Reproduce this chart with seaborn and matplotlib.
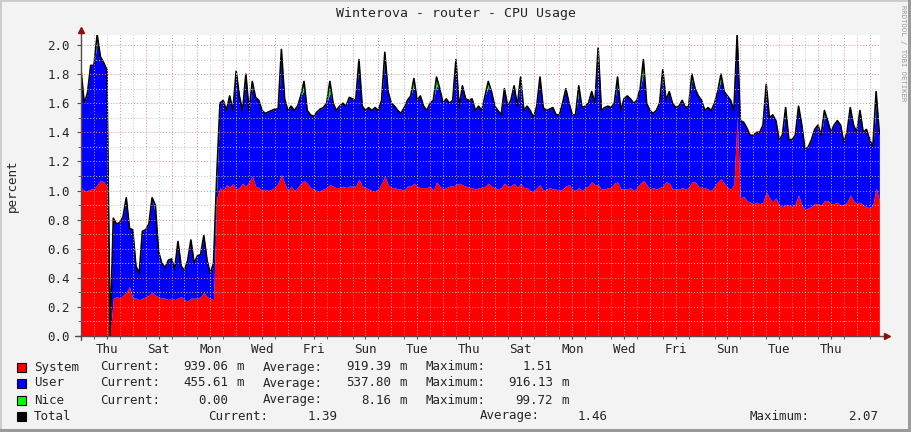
"""RRDtool-style CPU usage graph for the Winterova router, redrawn with seaborn."""
import matplotlib
matplotlib.use("Agg")
import matplotlib.pyplot as plt
import seaborn as sns
import numpy as np
from matplotlib.patches import Rectangle

sns.set_style("white")
plt.rcParams['font.family'] = ['DejaVu Sans Mono']

# one sample every 3 hours (8 per row = one day), values in CPU percent
STEP_DAYS = 0.125

total = [
    1.83, 1.60, 1.67, 1.86, 1.86, 2.07, 1.92, 1.88,
    1.83, 0.00, 0.81, 0.77, 0.78, 0.82, 0.95, 0.74,
    0.73, 0.48, 0.43, 0.72, 0.73, 0.77, 0.95, 0.90,
    0.58, 0.50, 0.47, 0.52, 0.53, 0.46, 0.65, 0.48,
    0.45, 0.52, 0.66, 0.50, 0.55, 0.56, 0.69, 0.52,
    0.43, 0.50, 1.10, 1.60, 1.62, 1.55, 1.65, 1.55,
    1.82, 1.65, 1.55, 1.80, 1.55, 1.75, 1.64, 1.62,
    1.55, 1.53, 1.54, 1.55, 1.56, 1.56, 1.97, 1.63,
    1.55, 1.58, 1.55, 1.58, 1.65, 1.75, 1.55, 1.52,
    1.51, 1.54, 1.56, 1.57, 1.60, 1.75, 1.60, 1.55,
    1.58, 1.60, 1.58, 1.64, 1.63, 1.62, 1.90, 1.58,
    1.55, 1.57, 1.55, 1.57, 1.55, 1.62, 1.95, 1.68,
    1.60, 1.58, 1.55, 1.53, 1.57, 1.62, 1.65, 1.77,
    1.62, 1.65, 1.58, 1.55, 1.60, 1.62, 1.78, 1.70,
    1.60, 1.63, 1.60, 1.62, 1.90, 1.57, 1.72, 1.63,
    1.62, 1.63, 1.55, 1.58, 1.55, 1.65, 1.75, 1.68,
    1.58, 1.55, 1.52, 1.70, 1.58, 1.62, 1.72, 1.58,
    1.78, 1.55, 1.58, 1.55, 1.50, 1.58, 1.78, 1.57,
    1.55, 1.56, 1.57, 1.52, 1.52, 1.60, 1.70, 1.60,
    1.52, 1.52, 1.72, 1.57, 1.58, 1.60, 1.68, 1.60,
    1.98, 1.55, 1.57, 1.58, 1.57, 1.60, 1.78, 1.55,
    1.63, 1.65, 1.63, 1.60, 1.62, 1.70, 1.90, 1.60,
    1.55, 1.53, 1.55, 1.60, 1.83, 1.62, 1.68, 1.60,
    1.57, 1.58, 1.62, 1.57, 1.58, 1.80, 1.70, 1.65,
    1.62, 1.55, 1.57, 1.55, 1.60, 1.68, 1.80, 1.68,
    1.65, 1.62, 1.55, 2.07, 1.48, 1.47, 1.43, 1.38,
    1.38, 1.40, 1.40, 1.45, 1.73, 1.50, 1.52, 1.48,
    1.35, 1.38, 1.57, 1.35, 1.35, 1.38, 1.58, 1.45,
    1.28, 1.30, 1.35, 1.42, 1.45, 1.38, 1.55, 1.48,
    1.40, 1.45, 1.48, 1.45, 1.33, 1.40, 1.57, 1.45,
    1.40, 1.55, 1.40, 1.42, 1.35, 1.30, 1.68, 1.39,
]

system = [
    1.02, 1.00, 1.00, 1.01, 1.01, 1.04, 1.07, 1.06,
    1.03, 0.00, 0.26, 0.27, 0.26, 0.28, 0.30, 0.34,
    0.26, 0.26, 0.25, 0.26, 0.27, 0.28, 0.30, 0.28,
    0.27, 0.26, 0.26, 0.25, 0.26, 0.25, 0.26, 0.27,
    0.25, 0.24, 0.26, 0.26, 0.26, 0.27, 0.30, 0.27,
    0.26, 0.25, 0.95, 1.02, 1.00, 1.04, 1.02, 1.05,
    1.01, 1.02, 1.05, 1.03, 1.06, 1.10, 1.03, 1.02,
    1.00, 1.01, 1.00, 1.01, 1.02, 1.05, 1.11, 1.05,
    1.00, 1.03, 1.00, 1.02, 1.05, 1.07, 1.05, 1.02,
    1.01, 1.00, 1.00, 1.01, 1.02, 1.04, 1.03, 1.02,
    1.02, 1.03, 1.02, 1.03, 1.03, 1.03, 1.08, 1.03,
    1.02, 1.01, 1.00, 1.00, 1.01, 1.05, 1.10, 1.04,
    1.02, 1.02, 1.01, 1.01, 1.00, 1.03, 1.03, 1.05,
    1.03, 1.02, 1.02, 1.02, 1.03, 1.00, 1.06, 1.03,
    1.01, 1.02, 1.03, 1.03, 1.04, 1.05, 1.04, 1.03,
    1.02, 1.02, 1.01, 1.02, 1.02, 1.03, 1.05, 1.03,
    1.02, 1.01, 1.02, 1.05, 1.03, 1.03, 1.05, 1.02,
    1.05, 1.02, 1.02, 1.00, 0.99, 1.02, 1.04, 1.00,
    1.01, 1.02, 1.01, 1.01, 1.00, 1.01, 1.03, 1.04,
    1.01, 1.00, 1.02, 1.00, 1.02, 1.03, 1.06, 1.04,
    1.04, 1.01, 1.01, 1.02, 1.02, 1.05, 1.06, 1.01,
    1.01, 1.01, 1.02, 1.00, 1.02, 1.05, 1.07, 1.04,
    1.01, 1.02, 1.01, 1.02, 1.03, 1.06, 1.05, 1.01,
    1.01, 1.01, 1.02, 1.01, 1.02, 1.06, 1.06, 1.03,
    1.02, 1.02, 1.01, 1.00, 1.03, 1.06, 1.08, 1.05,
    1.02, 1.01, 1.04, 1.50, 0.95, 0.96, 0.93, 0.92,
    0.91, 0.92, 0.91, 0.92, 0.99, 0.95, 0.92, 0.95,
    0.90, 0.89, 0.90, 0.90, 0.89, 0.91, 0.97, 0.90,
    0.87, 0.88, 0.89, 0.91, 0.91, 0.90, 0.93, 0.93,
    0.91, 0.91, 0.92, 0.90, 0.90, 0.92, 0.97, 0.93,
    0.91, 0.92, 0.90, 0.89, 0.88, 0.90, 1.02, 0.93,
]

nice = [
    0.06, 0, 0, 0, 0, 0.05, 0, 0,
    0, 0, 0, 0, 0, 0, 0, 0,
    0, 0, 0, 0, 0, 0, 0, 0.06,
    0, 0, 0, 0, 0, 0, 0, 0,
    0, 0, 0, 0, 0, 0, 0, 0,
    0, 0, 0.08, 0, 0, 0, 0, 0,
    0, 0, 0, 0, 0, 0.03, 0, 0,
    0, 0, 0, 0, 0, 0, 0.04, 0,
    0, 0, 0, 0, 0, 0.06, 0, 0,
    0, 0, 0, 0, 0, 0.08, 0, 0,
    0, 0, 0, 0, 0, 0, 0.03, 0,
    0, 0, 0, 0, 0, 0, 0.03, 0,
    0, 0, 0, 0, 0, 0, 0, 0.05,
    0, 0, 0, 0, 0, 0, 0.06, 0,
    0, 0, 0, 0, 0, 0, 0, 0,
    0, 0, 0, 0, 0, 0, 0.04, 0,
    0, 0, 0, 0, 0, 0, 0, 0,
    0.03, 0, 0, 0, 0, 0, 0, 0,
    0, 0, 0, 0, 0, 0, 0, 0,
    0, 0, 0.04, 0, 0, 0, 0, 0,
    0, 0, 0, 0, 0, 0, 0.04, 0,
    0, 0, 0, 0, 0, 0, 0.09, 0,
    0, 0, 0, 0, 0.03, 0, 0, 0,
    0, 0, 0, 0, 0, 0.04, 0, 0,
    0, 0, 0, 0, 0, 0, 0.04, 0,
    0, 0, 0, 0, 0, 0, 0, 0,
    0, 0, 0, 0, 0.03, 0, 0, 0,
    0, 0, 0.03, 0, 0, 0, 0, 0,
    0, 0, 0, 0, 0, 0, 0.03, 0,
    0, 0, 0, 0, 0, 0, 0, 0,
    0, 0, 0, 0, 0, 0, 0.08, 0,
]

day_labels = ["Thu", "Sat", "Mon", "Wed", "Fri", "Sun", "Tue", "Thu",
              "Sat", "Mon", "Wed", "Fri", "Sun", "Tue", "Thu"]
y_ticks = [0.0, 0.2, 0.4, 0.6, 0.8, 1.0, 1.2, 1.4, 1.6, 1.8, 2.0]

legend_names = ["System", "User", "Nice", "Total"]
legend_colors = ["#ff0000", "#0000ff", "#00ff00", "#000000"]
legend_current = ["939.06", "455.61", "0.00", "1.39"]
legend_average = ["919.39", "537.80", "8.16", "1.46"]
legend_maximum = ["1.51", "916.13", "99.72", "2.07"]
legend_unit_cur = ["m", "m", "", ""]
legend_unit_avg = ["m", "m", "m", ""]
legend_unit_max = ["", "m", "m", ""]

# ---------------------------------------------------------------- layout
W, H = 911, 432
FS = 9
MGRID = "#e88a8a"
GRID = "#c4c4c4"
AXIS = "#5a4a4a"


def fx(px):
    return px / W


def fy(py):
    return 1 - py / H


t = np.arange(len(total)) * STEP_DAYS
total_a = np.array(total)
system_a = np.array(system)
nice_a = np.array(nice)
user_a = np.clip(total_a - system_a - nice_a, 0, None)

fig = plt.figure(figsize=(W / 100, H / 100), dpi=100, facecolor="#f3f3f3")
ax = fig.add_axes([fx(81), fy(336), 799 / W, 301 / H])
ax.set_facecolor("white")

# stacked areas: system, user, nice
ax.fill_between(t, 0, system_a, color="#ff0000", lw=0, zorder=3)
ax.fill_between(t, system_a, system_a + user_a, color="#0000ff", lw=0, zorder=3)
ax.fill_between(t, system_a + user_a, system_a + user_a + nice_a,
                color="#00ff00", lw=0, zorder=3)
sns.lineplot(x=t, y=total_a, color="black", lw=1.2, ax=ax, zorder=4)

ax.set_xlim(0, 30.9)
ax.set_ylim(0, 2.069)

# grid on top of the areas: red dotted majors, grey dotted minors
for i, v in enumerate(np.arange(0.1, 2.05, 0.1)):
    ax.axhline(v, color=MGRID if i % 2 == 1 else GRID, lw=0.7,
               ls=(0, (1, 2)), zorder=5)
for d in range(31):
    ax.axvline(0.5 + d, color=MGRID, lw=0.7, ls=(0, (1, 2)), zorder=5)
    ax.axvline(1.0 + d, color=GRID, lw=0.7, ls=(0, (1, 2)), zorder=5)

for s in ax.spines.values():
    s.set_visible(False)

ax.set_yticks(y_ticks)
ax.set_yticklabels([f"{v:.1f}" for v in y_ticks], fontsize=FS)
ax.set_yticks(np.arange(0.1, 2.05, 0.2), minor=True)
ax.set_xticks([1.0 + 2 * i for i in range(len(day_labels))])
ax.set_xticklabels(day_labels, fontsize=FS)
ax.set_xticks([0.5 + d for d in range(31)], minor=True)
ax.tick_params(axis="y", which="major", length=3, color=AXIS, pad=5, direction="out", left=True)
ax.tick_params(axis="y", which="minor", length=2, color=AXIS, left=True)
ax.tick_params(axis="x", which="major", length=2, color=AXIS, pad=3, bottom=True)
ax.tick_params(axis="x", which="minor", length=2, color=AXIS, bottom=True)
ax.set_xlabel("")
ax.set_ylabel("")

# axis lines with arrow heads
ax.plot([0, 0], [-0.012, 1.01], color=AXIS, lw=1, transform=ax.transAxes,
        clip_on=False, zorder=6)
ax.plot([-0.007, 1.007], [0, 0], color=AXIS, lw=1, transform=ax.transAxes,
        clip_on=False, zorder=6)
ax.plot([0], [1.015], marker="^", ms=5, color="#8b1010", transform=ax.transAxes,
        clip_on=False, zorder=7)
ax.plot([1.009], [0], marker=">", ms=5, color="#8b1010", transform=ax.transAxes,
        clip_on=False, zorder=7)

# texts
fig.text(0.5, fy(14), "Winterova - router - CPU Usage", ha="center", va="center",
         fontsize=9.5)
fig.text(fx(12), fy(186), "percent", rotation=90, ha="center", va="center", fontsize=FS)
fig.text(fx(903), fy(5), "RRDTOOL / TOBI OETIKER", rotation=270, ha="center",
         va="top", fontsize=5.2, color="#9a9a9a")

# legend
row_y = [367, 383, 400, 416]
for r in range(4):
    yy = fy(row_y[r])
    fig.patches.append(Rectangle((fx(17), fy(row_y[r] + 4.5)), 9 / W, 9 / H,
                                 transform=fig.transFigure, facecolor=legend_colors[r],
                                 edgecolor="black", lw=0.8))
    fig.text(fx(34), yy, legend_names[r], ha="left", va="center", fontsize=FS)
    if r < 3:
        cols = [(100.5, 228, legend_current[r], legend_unit_cur[r], "Current:"),
                (262.6, 391, legend_average[r], legend_unit_avg[r], "Average:"),
                (425, 553, legend_maximum[r], legend_unit_max[r], "Maximum:")]
    else:
        cols = [(208, 337.6, legend_current[r], "", "Current:"),
                (480, 608, legend_average[r], "", "Average:"),
                (750, 878.6, legend_maximum[r], "", "Maximum:")]
    for lab_x, num_right, num, unit, lab in cols:
        fig.text(fx(lab_x), yy, lab, ha="left", va="center", fontsize=FS)
        fig.text(fx(num_right), yy, num, ha="right", va="center", fontsize=FS)
        if unit:
            fig.text(fx(num_right + 8), yy, unit, ha="left", va="center", fontsize=FS)

# 3d-ish frame around the image
fig.patches.append(Rectangle((0, 0), 1, 1, transform=fig.transFigure, fill=False,
                             edgecolor="#cbcbcb", lw=2))
fig.patches.append(Rectangle((1 - 3 / W, 0), 3 / W, 1, transform=fig.transFigure,
                             facecolor="#9a9a9a", lw=0))
fig.patches.append(Rectangle((0, 0), 1, 3 / H, transform=fig.transFigure,
                             facecolor="#9a9a9a", lw=0))

fig.savefig("out.png", dpi=100, facecolor=fig.get_facecolor())
plt.close(fig)
